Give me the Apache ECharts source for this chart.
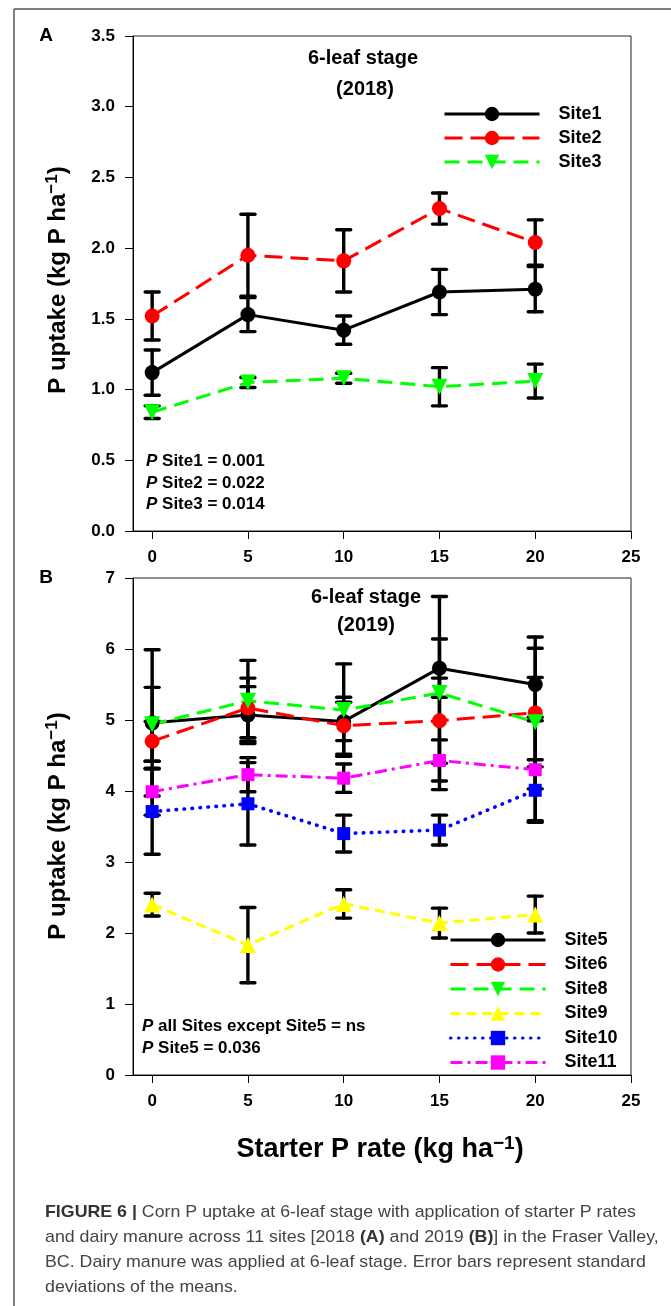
<!DOCTYPE html>
<html>
<head>
<meta charset="utf-8">
<script src="https://cdn.jsdelivr.net/npm/echarts@6/dist/echarts.min.js"></script>
<style>
  html, body { margin: 0; padding: 0; background: #fff; }
  #chart { width: 671px; height: 1306px; }
</style>
</head>
<body>
<div id="chart"></div>
<script>
// Starter P rates (kg ha-1)
const rates = [0, 5, 10, 15, 20];
const xTickValues = [0, 5, 10, 15, 20, 25];

// 2018 (panel A): mean P uptake and standard deviation
const site1 = [1.12, 1.53, 1.42, 1.69, 1.71];
const sd1   = [0.16, 0.12, 0.10, 0.16, 0.16];
const site2 = [1.52, 1.95, 1.91, 2.28, 2.04];
const sd2   = [0.17, 0.29, 0.22, 0.11, 0.16];
const site3 = [0.84, 1.05, 1.08, 1.02, 1.06];
const sd3   = [0.045, 0.035, 0.035, 0.135, 0.12];

// 2019 (panel B)
const site5  = [4.96, 5.07, 4.98, 5.73, 5.50];
const sd5    = [1.03, 0.40, 0.27, 0.41, 0.51];
const site6  = [4.70, 5.17, 4.92, 4.99, 5.10];
const sd6    = [0.28, 0.42, 0.40, 0.60, 1.07];
const site8  = [4.94, 5.27, 5.14, 5.38, 4.97];
const sd8    = [0.52, 0.57, 0.65, 1.36, 0.63];
const site9  = [2.40, 1.83, 2.41, 2.14, 2.26];
const sd9    = [0.16, 0.53, 0.20, 0.21, 0.26];
const site10 = [3.71, 3.82, 3.40, 3.45, 4.01];
const sd10   = [0.60, 0.58, 0.26, 0.21, 0.43];
const site11 = [3.99, 4.23, 4.18, 4.43, 4.30];
const sd11   = [0.33, 0.24, 0.20, 0.29, 0.74];

const FONT = "'Liberation Sans', Arial, Helvetica, sans-serif";

// vertical error bar with caps, drawn from [x, low, high]
function errorBar(params, api) {
  const x = api.value(0);
  const top = api.coord([x, api.value(2)]);
  const bot = api.coord([x, api.value(1)]);
  const hw = 7;
  const st = { stroke: '#000', lineWidth: 3.4, lineCap: 'round' };
  return {
    type: 'group',
    children: [
      { type: 'line', shape: { x1: top[0], y1: top[1], x2: bot[0], y2: bot[1] }, style: st },
      { type: 'line', shape: { x1: top[0] - hw, y1: top[1], x2: top[0] + hw, y2: top[1] }, style: st },
      { type: 'line', shape: { x1: bot[0] - hw, y1: bot[1], x2: bot[0] + hw, y2: bot[1] }, style: st }
    ]
  };
}

function site(name, means, sds, g, st) {
  return [
    {
      type: 'custom', name: name + ' SD', xAxisIndex: g, yAxisIndex: g,
      renderItem: errorBar, silent: true,
      encode: { x: 0, y: [1, 2] },
      data: rates.map((r, i) => [r, means[i] - sds[i], means[i] + sds[i]])
    },
    {
      type: 'line', name: name, xAxisIndex: g, yAxisIndex: g,
      data: rates.map((r, i) => [r, means[i]]),
      symbol: st.symbol, symbolSize: st.size, symbolRotate: st.rotate || 0,
      showAllSymbol: true,
      lineStyle: { color: st.color, width: st.width || 3, type: st.dash, cap: st.cap || 'butt' },
      itemStyle: { color: st.color, borderWidth: 0 },
      emphasis: { disabled: true }
    }
  ];
}

const styles = {
  Site1:  { color: '#000000', symbol: 'circle', size: 15, dash: 'solid' },
  Site2:  { color: '#ff0000', symbol: 'circle', size: 15, dash: [18, 8] },
  Site3:  { color: '#00ff00', symbol: 'triangle', size: 16, rotate: 180, dash: [15, 8] },
  Site5:  { color: '#000000', symbol: 'circle', size: 15, dash: 'solid' },
  Site6:  { color: '#ff0000', symbol: 'circle', size: 15, dash: [18, 8] },
  Site8:  { color: '#00ff00', symbol: 'triangle', size: 16, rotate: 180, dash: [15, 8] },
  Site9:  { color: '#ffff00', symbol: 'triangle', size: 16, dash: [10, 6] },
  Site10: { color: '#0000ff', symbol: 'rect', size: 13, dash: [0.5, 7.5], cap: 'round', width: 3.6 },
  Site11: { color: '#ff00ff', symbol: 'rect', size: 13, dash: [12, 5, 3, 5] }
};

function xAxis(g) {
  return {
    type: 'value', gridIndex: g, min: -1, max: 25,
    splitLine: { show: false },
    axisLine: { onZero: false, lineStyle: { color: '#000', width: 1 } },
    axisTick: { customValues: xTickValues, length: 8, lineStyle: { color: '#000' } },
    axisLabel: { customValues: xTickValues, margin: 18, color: '#000', fontFamily: FONT, fontWeight: 'bold', fontSize: 17 }
  };
}
function yAxis(g, max, interval, digits) {
  return {
    type: 'value', gridIndex: g, min: 0, max: max, interval: interval,
    splitLine: { show: false },
    axisLine: { show: true, onZero: false, lineStyle: { color: '#000', width: 1 } },
    axisTick: { length: 8, lineStyle: { color: '#000' } },
    axisLabel: { margin: 18, color: '#000', fontFamily: FONT, fontWeight: 'bold', fontSize: 17,
      formatter: v => v.toFixed(digits) }
  };
}

function legend(names, left, top, gap) {
  return {
    data: names, orient: 'vertical', left: left, top: top, padding: 0,
    itemWidth: 95, itemHeight: 18, itemGap: gap, selectedMode: false,
    lineStyle: { width: 3 },
    textStyle: { fontFamily: FONT, fontWeight: 'bold', fontSize: 18, color: '#000', padding: [0, 0, 0, 14] }
  };
}

const bold = (s, x, y, size, extra) => Object.assign({
  type: 'text', x: x, y: y,
  style: { text: s, font: 'bold ' + size + 'px ' + FONT, fill: '#000', align: 'center', verticalAlign: 'middle' }
}, extra || {});

const pRich = { i: { fontStyle: 'italic', fontWeight: 'bold', fontSize: 17, fontFamily: FONT, fill: '#000' },
                r: { fontWeight: 'bold', fontSize: 17, fontFamily: FONT, fill: '#000' } };
const pText = (lines, x, y, lh) => ({
  type: 'text', x: x, y: y,
  style: { text: lines.map(l => '{i|P}{r| ' + l + '}').join('\n'), rich: pRich, lineHeight: lh,
           align: 'left', verticalAlign: 'top' }
});

const yTitleRich = {
  m: { fontFamily: FONT, fontWeight: 'bold', fontSize: 24, fill: '#000' },
  s: { fontFamily: FONT, fontWeight: 'bold', fontSize: 17, fill: '#000', padding: [0, 0, 12, 0] }
};
const yTitle = (y) => ({
  type: 'text', x: 58, y: y, rotation: Math.PI / 2,
  style: { text: '{m|P uptake (kg P ha}{s|\u22121}{m|)}', rich: yTitleRich, align: 'center', verticalAlign: 'middle' }
});

// caption
const capRich = {
  b: { fontFamily: FONT, fontWeight: 'bold', fontSize: 17, fill: '#333' },
  n: { fontFamily: FONT, fontSize: 17, fill: '#444' }
};
const captionLines = [
  [['FIGURE 6 | ', 'b'], ['Corn P uptake at 6-leaf stage with application of starter P rates', 'n']],
  [['and dairy manure across 11 sites [2018 ', 'n'], ['(A)', 'b'], [' and 2019 ', 'n'], ['(B)', 'b'], ['] in the Fraser Valley,', 'n']],
  [['BC. Dairy manure was applied at 6-leaf stage. Error bars represent standard', 'n']],
  [['deviations of the means.', 'n']]
];
const ctx = document.createElement('canvas').getContext('2d');
function segWidth(segs) {
  let w = 0;
  segs.forEach(([t, k]) => { ctx.font = (k === 'b' ? 'bold ' : '') + '17px ' + FONT; w += ctx.measureText(t).width; });
  return w;
}
const capScale = 591 / segWidth(captionLines[0]);
const captionY = [1212, 1237, 1262, 1287];
const captionEls = captionLines.map((segs, i) => ({
  type: 'text', x: 45, y: captionY[i], scaleX: capScale,
  style: { text: segs.map(([t, k]) => '{' + k + '|' + t + '}').join(''), rich: capRich, align: 'left', verticalAlign: 'middle' }
}));

const option = {
  animation: false,
  backgroundColor: '#fff',
  grid: [
    { left: 133, top: 36, width: 498, height: 495, show: true, borderColor: '#222', borderWidth: 1, backgroundColor: 'transparent' },
    { left: 133, top: 578, width: 498, height: 497, show: true, borderColor: '#222', borderWidth: 1, backgroundColor: 'transparent' }
  ],
  xAxis: [xAxis(0), xAxis(1)],
  yAxis: [yAxis(0, 3.5, 0.5, 1), yAxis(1, 7, 1, 0)],
  legend: [
    legend(['Site1', 'Site2', 'Site3'], 443, 105, 6),
    legend(['Site5', 'Site6', 'Site8', 'Site9', 'Site10', 'Site11'], 449, 931, 6.5)
  ],
  series: [].concat(
    site('Site1', site1, sd1, 0, styles.Site1),
    site('Site2', site2, sd2, 0, styles.Site2),
    site('Site3', site3, sd3, 0, styles.Site3),
    site('Site5', site5, sd5, 1, styles.Site5),
    site('Site6', site6, sd6, 1, styles.Site6),
    site('Site8', site8, sd8, 1, styles.Site8),
    site('Site9', site9, sd9, 1, styles.Site9),
    site('Site10', site10, sd10, 1, styles.Site10),
    site('Site11', site11, sd11, 1, styles.Site11)
  ),
  graphic: [
    { type: 'line', shape: { x1: 14, y1: 9, x2: 14, y2: 1306 }, style: { stroke: '#555', lineWidth: 1.5 } },
    { type: 'line', shape: { x1: 14, y1: 9, x2: 671, y2: 9 }, style: { stroke: '#555', lineWidth: 1.5 } },
    bold('A', 46, 36, 19),
    bold('B', 46, 578, 19),
    bold('6-leaf stage', 363, 58, 20),
    bold('(2018)', 365, 89, 20),
    bold('6-leaf stage', 366, 597, 20),
    bold('(2019)', 366, 625, 20),
    pText(['Site1 = 0.001', 'Site2 = 0.022', 'Site3 = 0.014'], 146, 451, 21.5),
    pText(['all Sites except Site5 = ns', 'Site5 = 0.036'], 142, 1016, 21.5),
    yTitle(280),
    yTitle(826),
    {
      type: 'text', x: 380, y: 1150,
      style: { text: '{m|Starter P rate (kg ha}{s|\u22121}{m|)}', align: 'center', verticalAlign: 'middle',
        rich: { m: { fontFamily: FONT, fontWeight: 'bold', fontSize: 27, fill: '#000' },
                s: { fontFamily: FONT, fontWeight: 'bold', fontSize: 19, fill: '#000', padding: [0, 0, 13, 0] } } }
    }
  ].concat(captionEls)
};

const chart = echarts.init(document.getElementById('chart'));
chart.setOption(option);
</script>
</body>
</html>
